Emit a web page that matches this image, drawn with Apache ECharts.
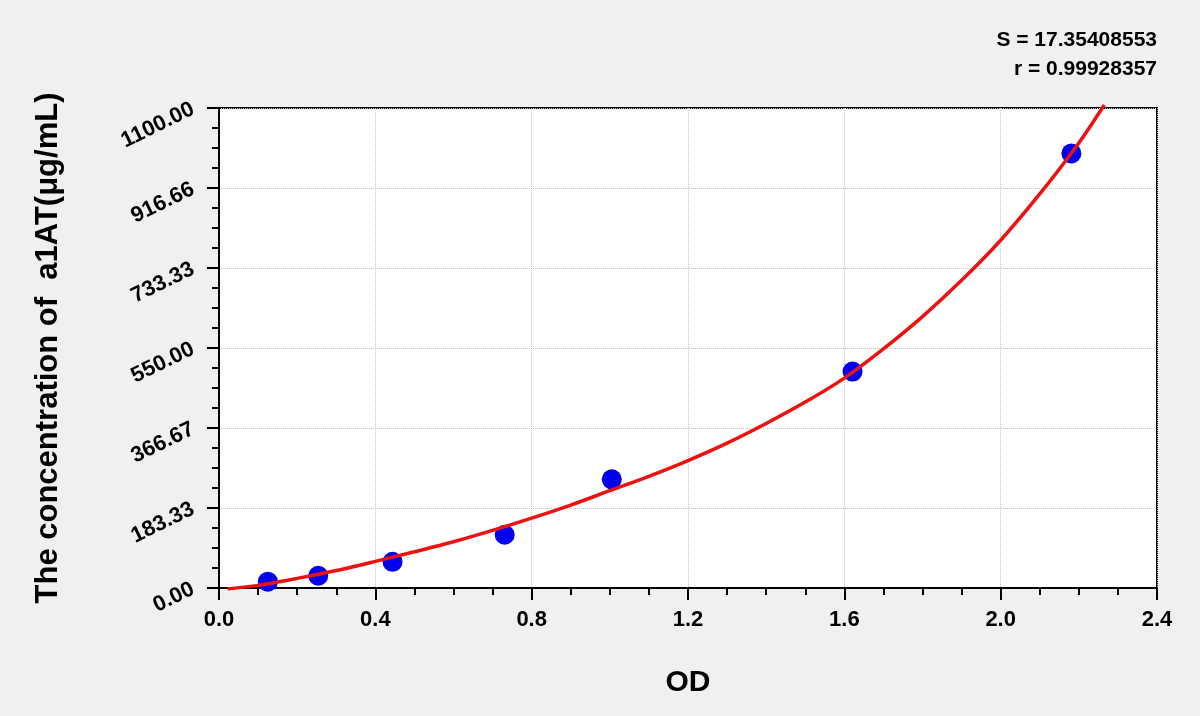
<!DOCTYPE html>
<html>
<head>
<meta charset="utf-8">
<script src="https://cdn.jsdelivr.net/npm/echarts@6/dist/echarts.min.js"></script>
<style>
html,body{margin:0;padding:0;background:#f0f0f0;}
#chart{width:1200px;height:716px;}
</style>
</head>
<body>
<div id="chart"></div>
<script>
// Standard points (OD vs concentration)
const pointOD = [0.125, 0.254, 0.444, 0.731, 1.005, 1.621, 2.181];
const pointConc = [14.5, 28, 60, 122, 249, 496, 996];

// Fitted curve
const curveOD = [0.022, 0.1, 0.2, 0.3, 0.4, 0.5, 0.6, 0.7, 0.8, 0.9, 1.0, 1.1, 1.2, 1.3, 1.4, 1.5, 1.6, 1.7, 1.8, 1.9, 2.0, 2.1, 2.2, 2.265];
const curveConc = [-2, 6, 22, 40, 61, 83, 106, 132, 160, 190, 223, 256, 292, 332, 377, 426, 481, 548, 622, 705, 797, 903, 1020, 1107];

// Tick labels
const xTickLabels = ['0.0', '0.4', '0.8', '1.2', '1.6', '2.0', '2.4'];
const yTickLabels = ['0.00', '183.33', '366.67', '550.00', '733.33', '916.66', '1100.00'];

const statS = 'S = 17.35408553';
const statR = 'r = 0.99928357';
const xName = 'OD';
const yName = 'The concentration of  a1AT(μg/mL)';

const yMax = 1100;
const yInterval = yMax / 6;
const xInterval = 0.4;

const FONT = '"Liberation Sans", Arial, sans-serif';

const chart = echarts.init(document.getElementById('chart'));
chart.setOption({
  backgroundColor: '#f0f0f0',
  animation: false,
  textStyle: { fontFamily: FONT },
  grid: {
    left: 219, right: 43, top: 108, bottom: 128,
    show: true, backgroundColor: '#ffffff', borderColor: '#000000', borderWidth: 2
  },
  graphic: [
    { type: 'text', right: 43, top: 30,
      style: { text: statS, fill: '#000', font: 'bold 21px ' + FONT, textAlign: 'right' } },
    { type: 'text', right: 43, top: 59,
      style: { text: statR, fill: '#000', font: 'bold 21px ' + FONT, textAlign: 'right' } }
  ],
  xAxis: {
    type: 'value', min: 0, max: 2.4, interval: xInterval,
    name: xName, nameLocation: 'middle', nameGap: 80,
    nameTextStyle: { color: '#000', fontWeight: 'bold', fontSize: 30, fontFamily: FONT },
    axisLine: { show: true, lineStyle: { color: '#000', width: 2 } },
    axisTick: { show: true, inside: false, length: 12, lineStyle: { color: '#000', width: 2 } },
    minorTick: { show: true, splitNumber: 4, length: 7, lineStyle: { color: '#000', width: 2 } },
    axisLabel: {
      color: '#000', fontWeight: 'bold', fontSize: 22, margin: 21, fontFamily: FONT,
      formatter: function (v) { return xTickLabels[Math.round(v / xInterval)]; }
    },
    splitLine: { show: true, lineStyle: { color: '#c4c4c4', type: 'dotted', width: 1 } }
  },
  yAxis: {
    type: 'value', min: 0, max: yMax, interval: yInterval,
    name: yName, nameLocation: 'middle', nameGap: 155, nameRotate: 90,
    nameTextStyle: { color: '#000', fontWeight: 'bold', fontSize: 31, fontFamily: FONT },
    axisLine: { show: true, lineStyle: { color: '#000', width: 2 } },
    axisTick: { show: true, inside: false, length: 12, lineStyle: { color: '#000', width: 2 } },
    minorTick: { show: true, splitNumber: 4, length: 7, lineStyle: { color: '#000', width: 2 } },
    axisLabel: {
      color: '#000', fontWeight: 'bold', fontSize: 22, margin: 26, rotate: 26, fontFamily: FONT,
      formatter: function (v) { return yTickLabels[Math.round(v / yInterval)]; }
    },
    splitLine: { show: true, lineStyle: { color: '#c4c4c4', type: 'dotted', width: 1 } }
  },
  series: [
    {
      type: 'line', name: 'fit', smooth: 0.3, showSymbol: false, clip: false, z: 3,
      lineStyle: { color: '#ee1111', width: 3.5 },
      data: curveOD.map(function (x, i) { return [x, curveConc[i]]; })
    },
    {
      type: 'scatter', name: 'standards', symbolSize: 20, z: 2,
      itemStyle: { color: '#0000ee', opacity: 1 },
      data: pointOD.map(function (x, i) { return [x, pointConc[i]]; })
    }
  ]
});
</script>
</body>
</html>
